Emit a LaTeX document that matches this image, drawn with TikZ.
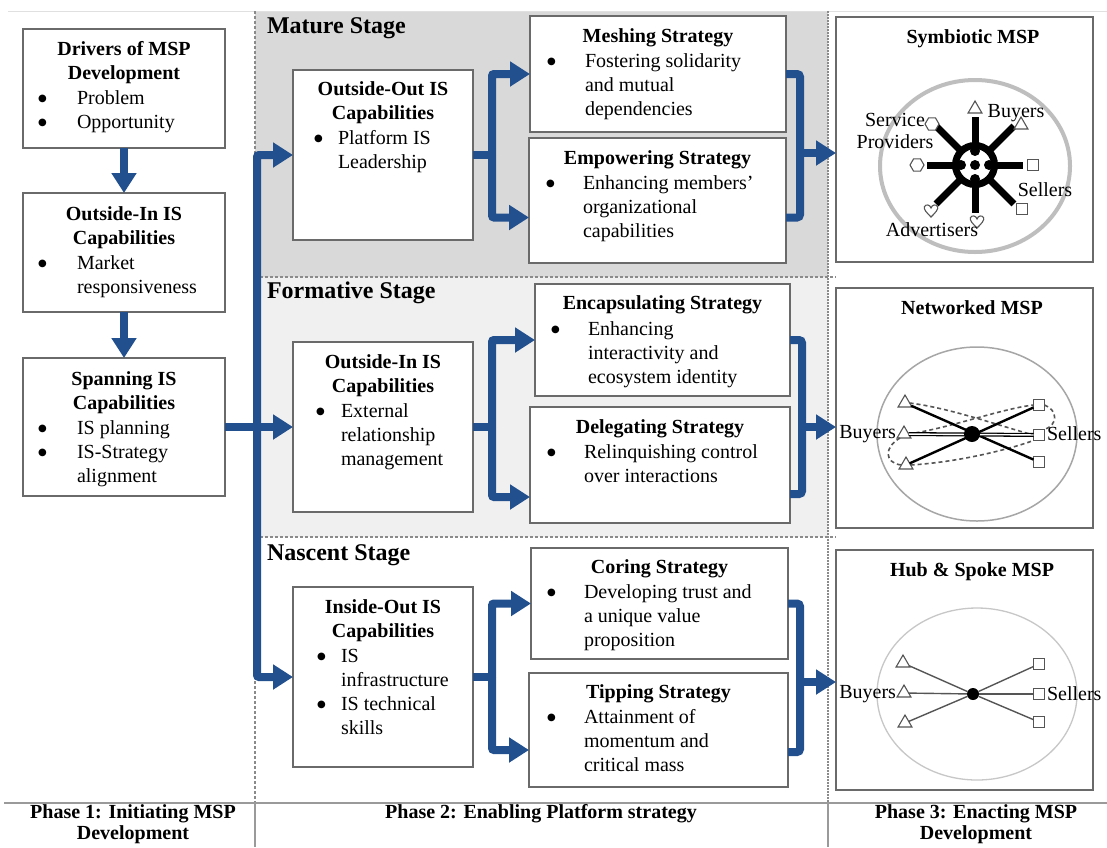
\documentclass[tikz,border=0pt]{standalone}
\usepackage{fontspec}
\setmainfont{Liberation Serif}
\newfontfamily\dotfont{DejaVu Sans}
\usetikzlibrary{arrows.meta,calc,shapes.geometric}

\definecolor{flowblue}{HTML}{22508F}
\definecolor{maturebg}{HTML}{D9D9D9}
\definecolor{formbg}{HTML}{F0F0F0}
\definecolor{boxline}{HTML}{6A6A6A}
\definecolor{sepline}{HTML}{8A8A8A}
\definecolor{rulegray}{HTML}{9A9A9A}
\definecolor{ringgray}{HTML}{BEBEBE}
\definecolor{symgray}{HTML}{555555}

% centred title block and bulleted list block
\newcommand\ctab[1]{\begin{tabular}{@{}c@{}}#1\end{tabular}}
\newcommand\bigbullet{\raisebox{3.4pt}{\dotfont\fontsize{10}{12}\selectfont ●}}
\newcommand\lstab[2]{\def\bb{\makebox[#1][l]{\bigbullet}}\begin{tabular}{@{}l@{}l@{}}#2\end{tabular}}
% framed box from its corners
\newcommand\mspbox[5]{\node[box,minimum width={#4pt-#2pt},minimum height={#5pt-#3pt}] (#1) at ({(#2+#4)/2},{(#3+#5)/2}) {};}
% small outlined heart
\newcommand\heartat[2]{\draw[sym,shift={(#1,#2)}] (0,6) .. controls (-4,2) and (-8,-2) .. (-6.5,-4.5) .. controls (-5,-7) and (-1,-6.5) .. (0,-3) .. controls (1,-6.5) and (5,-7) .. (6.5,-4.5) .. controls (8,-2) and (4,2) .. (0,6) -- cycle;}

\begin{document}
\begin{tikzpicture}[x=1pt,y=-1pt,
  every node/.style={inner sep=0pt,outer sep=0pt},
  ttl/.style={font=\fontsize{20}{24}\selectfont\bfseries,anchor=north},
  lst/.style={font=\fontsize{20}{24}\selectfont,anchor=north west},
  lbl/.style={font=\fontsize{20}{22}\selectfont,align=center},
  stagettl/.style={font=\fontsize{24}{28}\selectfont\bfseries,anchor=base west},
  box/.style={draw=boxline,line width=1.6pt,fill=white},
  flow/.style={draw=flowblue,line width=8pt,rounded corners=2pt,-{Triangle[length=20pt,width=24pt]}},
  flowline/.style={draw=flowblue,line width=8pt,line cap=butt,rounded corners=3pt},
  sepdash/.style={draw=sepline,line width=1.2pt,dash pattern=on 3pt off 2pt},
  sepdot/.style={draw=sepline,line width=1.6pt,dash pattern=on 1.5pt off 1.5pt},
  sym/.style={draw=symgray,fill=white,line width=1.1pt},
  tri/.style={sym,regular polygon,regular polygon sides=3,minimum size=16pt},
  sqr/.style={sym,rectangle,minimum size=11pt},
  hexa/.style={sym,regular polygon,regular polygon sides=6,minimum size=14pt},
  netdash/.style={draw=symgray,line width=1.6pt,dash pattern=on 4pt off 3pt},
]
\useasboundingbox (0,0) rectangle (1107,847);
\clip (0,0) rectangle (1107,847);
\fill[white] (0,0) rectangle (1107,847);

% ---- stage bands and separators
\fill[maturebg] (255,11) rectangle (828,277);
\fill[formbg] (255,277) rectangle (828,537);
\draw[black!12,line width=1pt] (8,11) -- (1107,11);
\draw[sepdash] (255,277) -- (836,277);
\draw[sepdash] (255,537) -- (836,537);
\draw[sepdash] (255,11) -- (255,803);
\draw[sepdot] (828,11) -- (828,803);
\draw[rulegray,line width=1.5pt] (4,803) -- (1107,803);
\draw[rulegray,line width=1.2pt] (255,803) -- (255,847) (828,803) -- (828,847);

% ---- phase 1 column
\mspbox{drv}{23}{29}{225}{148}
\mspbox{oiL}{23}{193}{225}{312}
\mspbox{sp}{23}{358}{225}{496}
\node[ttl] (drv-t) at (124,39) {\ctab{Drivers of MSP\\Development}};
\node[lst] (drv-l) at (38,88) {\lstab{39pt}{\bb&Problem\\\bb&Opportunity}};
\node[ttl] (oiL-t) at (124,204) {\ctab{Outside-In IS\\Capabilities}};
\node[lst] (oiL-l) at (38,253) {\lstab{39pt}{\bb&Market\\&responsiveness}};
\node[ttl] (sp-t) at (124,369) {\ctab{Spanning IS\\Capabilities}};
\node[lst] (sp-l) at (38,418) {\lstab{39pt}{\bb&IS planning\\\bb&IS-Strategy\\&alignment}};

% ---- stage titles
\node[stagettl] (st-m) at (267,33) {Mature Stage};
\node[stagettl] (st-f) at (267,298) {Formative Stage};
\node[stagettl] (st-n) at (267,560) {Nascent Stage};

% ---- mature stage
\mspbox{mOO}{293}{70}{473}{240}
\mspbox{mesh}{530}{16}{786}{132}
\mspbox{emp}{529}{138}{786}{263}
\node[ttl] (mOO-t) at (383,79) {\ctab{Outside-Out IS\\Capabilities}};
\node[lst] (mOO-l) at (314,128) {\lstab{24pt}{\bb&Platform IS\\&Leadership}};
\node[ttl] (mesh-t) at (658,26) {\ctab{Meshing Strategy}};
\node[lst] (mesh-l) at (547,51) {\lstab{38pt}{\bb&Fostering solidarity\\&and mutual\\&dependencies}};
\node[ttl] (emp-t) at (657.5,148) {\ctab{Empowering Strategy}};
\node[lst] (emp-l) at (546,173) {\lstab{37pt}{\bb&Enhancing members'\\&organizational\\&capabilities}};

% ---- formative stage
\mspbox{fOI}{293}{342}{473}{512}
\mspbox{encap}{535}{284}{790}{396}
\mspbox{deleg}{530}{407}{790}{523}
\node[ttl] (fOI-t) at (383,352) {\ctab{Outside-In IS\\Capabilities}};
\node[lst] (fOI-l) at (316,401) {\lstab{25pt}{\bb&External\\&relationship\\&management}};
\node[ttl] (encap-t) at (662.5,293) {\ctab{Encapsulating Strategy}};
\node[lst] (encap-l) at (551,319) {\lstab{37pt}{\bb&Enhancing\\&interactivity and\\&ecosystem identity}};
\node[ttl] (deleg-t) at (660,417) {\ctab{Delegating Strategy}};
\node[lst] (deleg-l) at (547,442) {\lstab{37pt}{\bb&Relinquishing control\\&over interactions}};

% ---- nascent stage
\mspbox{nIO}{293}{587}{473}{767}
\mspbox{cor}{531}{548}{788}{659}
\mspbox{tip}{529}{673}{788}{787}
\node[ttl] (nIO-t) at (383,597) {\ctab{Inside-Out IS\\Capabilities}};
\node[lst] (nIO-l) at (317,646) {\lstab{24pt}{\bb&IS\\&infrastructure\\\bb&IS technical\\&skills}};
\node[ttl] (cor-t) at (659.5,557) {\ctab{Coring Strategy}};
\node[lst] (cor-l) at (547,582) {\lstab{37pt}{\bb&Developing trust and\\&a unique value\\&proposition}};
\node[ttl] (tip-t) at (658.5,682) {\ctab{Tipping Strategy}};
\node[lst] (tip-l) at (547,707) {\lstab{37pt}{\bb&Attainment of\\&momentum and\\&critical mass}};

% ---- phase 3 boxes
\mspbox{symb}{836}{17}{1093}{262}
\mspbox{netw}{836}{288}{1093}{528}
\mspbox{hubs}{836}{550}{1093}{790}
\node[ttl,anchor=center] (symb-t) at (973,39) {Symbiotic MSP};
\node[ttl,anchor=center] (netw-t) at (972,308) {Networked MSP};
\node[ttl,anchor=center] (hubs-t) at (972,572) {Hub \& Spoke MSP};

% ---- phase labels
\node[ttl] (ph1) at (133,801.2) {\ctab{Phase 1: Initiating MSP\\[-3pt]Development}};
\node[ttl] (ph2) at (541,801.2) {\ctab{Phase 2: Enabling Platform strategy}};
\node[ttl] (ph3) at (976,801.2) {\ctab{Phase 3: Enacting MSP\\[-3pt]Development}};

% ---- flow connectors
\draw[flow] (drv) -- (oiL);
\draw[flow] (oiL) -- (sp);
\coordinate (tj) at (257,427);
\draw[flow] (sp.east) -- (fOI.west);
\draw[flow] (tj) |- (mOO.west);
\draw[flow] (tj) |- (nIO.west);

\coordinate (mj) at (492,155);
\draw[flowline] (mOO.east) -- (mj);
\draw[flow] (mj) |- (mesh.west);
\draw[flow] (mj) |- ($(emp.west)+(0,17)$);
\coordinate (mr) at (800,153);
\draw[flowline] (mesh.east) -| (mr) |- ($(emp.east)+(0,17)$);
\draw[flow] (mr) -- (symb.west |- mr);

\coordinate (fj) at (492,427);
\draw[flowline] (fOI.east) -- (fj);
\draw[flow] (fj) |- (encap.west);
\draw[flow] (fj) |- ($(deleg.west)+(0,32)$);
\coordinate (fr) at (802,427);
\draw[flowline] (encap.east) -| (fr) |- ($(deleg.east)+(0,29)$);
\draw[flow] (fr) -- (netw.west |- fr);

\coordinate (nj) at (492,677);
\draw[flowline] (nIO.east) -- (nj);
\draw[flow] (nj) |- (cor.west);
\draw[flow] (nj) |- ($(tip.west)+(0,20)$);
\coordinate (nr) at (800,682);
\draw[flowline] (cor.east) -| (nr) |- ($(tip.east)+(0,22)$);
\draw[flow] (nr) -- (hubs.west |- nr);

% ---- symbiotic platform icon
\draw[ringgray,line width=4pt] (975,166) ellipse [x radius=95pt,y radius=86pt];
\coordinate (sc) at (975,165);
\foreach \a/\r in {0/48,45/55,90/48,135/55,180/48,225/55,270/48,315/55}
  \draw[line width=7pt] ($(sc)+(\a:22)$) -- ($(sc)+(\a:\r)$);
\draw[line width=7pt,fill=white] (sc) circle (19.5pt);
\fill (sc) circle (5pt);
\fill ($(sc)+(14,0)$) circle (5pt);
\fill ($(sc)+(-14,0)$) circle (5pt);
\fill ($(sc)+(0,14)$) circle (5pt);
\fill ($(sc)+(0,-14)$) circle (5pt);
\node[tri] (sy-b1) at ($(sc)+(0,-56)$) {};
\node[tri] (sy-b2) at ($(sc)+(46,-40)$) {};
\node[sqr] (sy-s1) at ($(sc)+(58,0)$) {};
\node[sqr] (sy-s2) at ($(sc)+(47,44)$) {};
\heartat{977}{222}
\heartat{931}{211}
\node[hexa] (sy-p1) at ($(sc)+(-58,0)$) {};
\node[hexa] (sy-p2) at ($(sc)+(-43,-41)$) {};
\node[lbl] (sy-lb) at (1016,113) {Buyers};
\node[lbl] (sy-lp) at (895,131) {Service\\Providers};
\node[lbl] (sy-ls) at (1045,190) {Sellers};
\node[lbl] (sy-la) at (932,230) {Advertisers};

% ---- networked platform icon
\draw[black!35,line width=1.5pt] (977,434) ellipse [x radius=100pt,y radius=87pt];
\node[tri] (nt1) at (905,403) {};
\node[tri] (nt2) at (904,434) {};
\node[tri] (nt3) at (906,465) {};
\node[sqr] (ns1) at (1039,405) {};
\node[sqr] (ns2) at (1039,435) {};
\node[sqr] (ns3) at (1039,462) {};
\draw[netdash] (nt1.east) .. controls (950,408) and (1000,426) .. (ns2.west);
\draw[netdash] (nt2.east) .. controls (950,428) and (1000,409) .. (ns1.west);
\draw[netdash] (nt3.east) .. controls (960,462) and (1010,449) .. (ns2.south west);
\draw[netdash] (ns1.east) .. controls (1058,410) and (1058,425) .. (ns2.north east);
\draw[netdash] (nt2.south west) .. controls (884,447) and (884,463) .. (nt3.west);
\draw[line width=2.4pt] (nt1) -- (ns3);
\draw[line width=2.4pt] (nt3) -- (ns1);
\draw[line width=1.3pt,double=white,double distance=1.4pt] (nt2) -- (ns2);
\node[circle,fill=black,minimum size=16pt] (nhub) at (972,434) {};
\node[lbl,anchor=east] (nw-lb) at (896,434) {Buyers};
\node[lbl,anchor=west] (nw-ls) at (1047,434) {Sellers};

% ---- hub and spoke icon
\draw[black!22,line width=1.3pt] (977,694) ellipse [x radius=100pt,y radius=86pt];
\node[circle,fill=black,minimum size=12pt] (hhub) at (973,694) {};
\node[tri] (ht1) at (903,663) {};
\node[tri] (ht2) at (904,693) {};
\node[tri] (ht3) at (905,723) {};
\node[sqr] (hs1) at (1039,664) {};
\node[sqr] (hs2) at (1039,694) {};
\node[sqr] (hs3) at (1039,722) {};
\foreach \n in {ht1,ht2,ht3,hs1,hs2,hs3}
  \draw[symgray,line width=1.4pt] (\n) -- (hhub);
\node[lbl,anchor=east] (hb-lb) at (896,694) {Buyers};
\node[lbl,anchor=west] (hb-ls) at (1047,694) {Sellers};
\end{tikzpicture}
\end{document}
